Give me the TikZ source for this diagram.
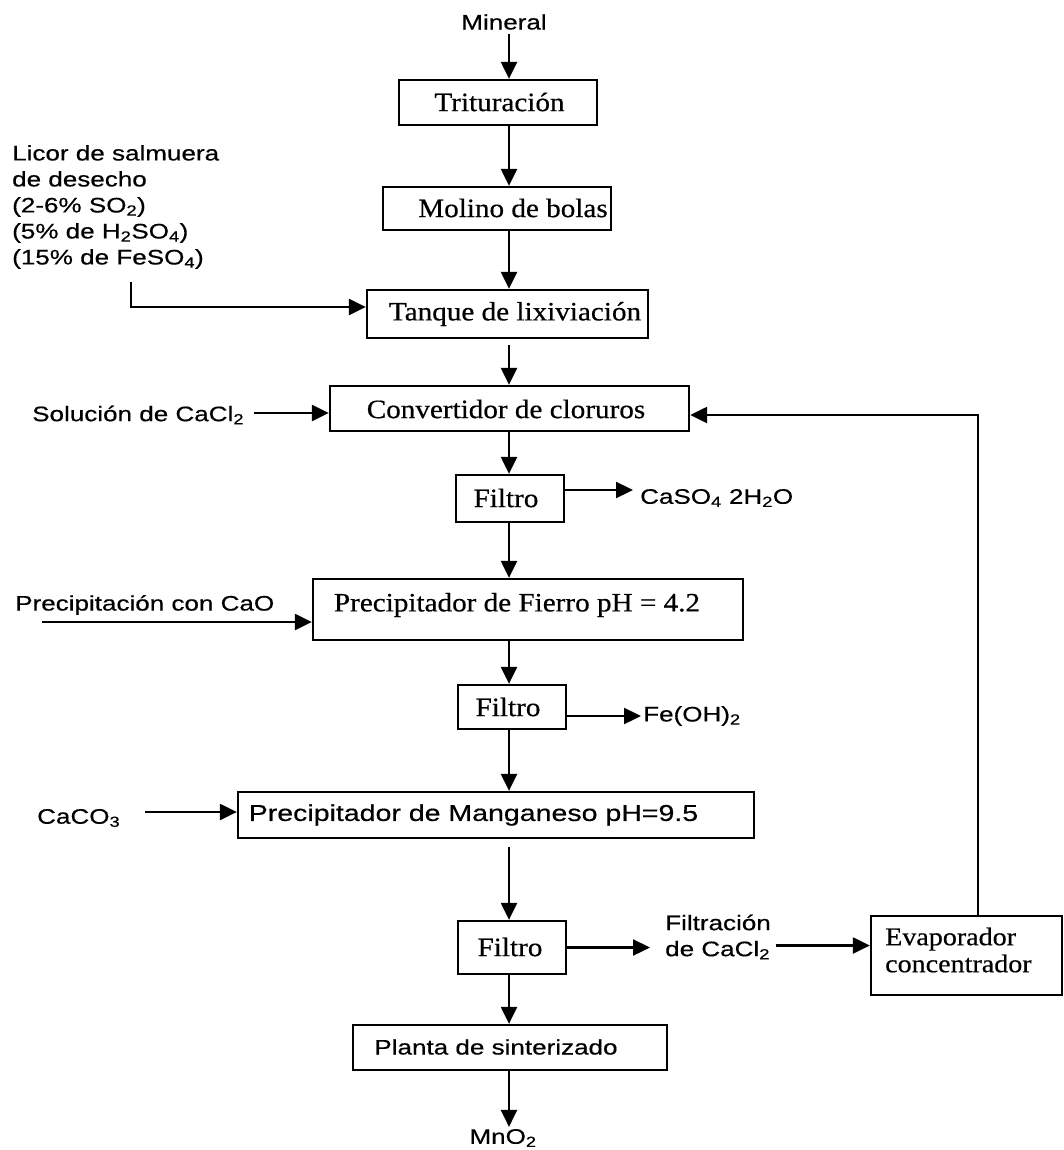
\documentclass[tikz,border=0pt]{standalone}
\usepackage{fontspec}
\setmainfont{Liberation Serif}[FakeStretch=1.1,FakeBold=0.5]
\setsansfont{Liberation Sans}[FakeStretch=1.24,FakeBold=0.5]
\usetikzlibrary{arrows.meta,calc}
\newcommand\procfont{\rmfamily\fontsize{26.5}{30}\selectfont}
\newcommand\evapfont{\rmfamily\fontsize{25.5}{27}\selectfont}
\newcommand\feedfont{\sffamily\fontsize{21}{26}\selectfont}
\newcommand\bigsans{\sffamily\fontsize{23}{28}\selectfont}

\begin{document}
\begin{tikzpicture}[x=1pt,y=-1pt,
  box/.style={draw, line width=2.3pt, inner sep=0pt},
  serif/.style={inner sep=0pt, font=\procfont},
  sans/.style={inner sep=0pt, font=\feedfont, align=left},
  flow/.style={line width=2.3pt, -{Triangle[length=17pt,width=16pt]}}]
\useasboundingbox[fill=white] (0,0) rectangle (1064,1150);

% main process column
\coordinate (col) at (509,0);

% process units
\node[box, minimum width=198pt, minimum height=45pt] (tri) at (498,102.5) {};
\node[box, minimum width=228pt, minimum height=43pt] (mol) at (497,208.5) {};
\node[box, minimum width=281pt, minimum height=48pt] (tan) at (507.5,314) {};
\node[box, minimum width=359pt, minimum height=45pt] (conv) at (509.5,408.5) {};
\node[box, minimum width=108pt, minimum height=47pt] (f1) at (510,498.5) {};
\node[box, minimum width=430pt, minimum height=61pt] (fe) at (528,609.5) {};
\node[box, minimum width=108pt, minimum height=44pt] (f2) at (512,707) {};
\node[box, minimum width=516pt, minimum height=46pt] (mn) at (496,815) {};
\node[box, minimum width=108pt, minimum height=53pt] (f3) at (512,947.5) {};
\node[box, minimum width=191pt, minimum height=79pt] (eva) at (966.5,955.5) {};
\node[box, minimum width=314pt, minimum height=45pt] (pla) at (510,1047.5) {};

% unit names
\node[serif] (tritxt) at (499.5,102) {Trituración};
\node[serif] (moltxt) at (513,208) {Molino de bolas};
\node[serif] (tantxt) at (515,314) {Tanque de lixiviación};
\node[serif] (convtxt) at (506,409) {Convertidor de cloruros};
\node[serif] (f1txt) at (506,498) {Filtro};
\node[serif] (fetxt) at (517,605) {Precipitador de Fierro pH = 4.2};
\node[serif] (f2txt) at (508,707) {Filtro};
\node[inner sep=0pt, font=\bigsans] (mntxt) at (473.5,815) {Precipitador de Manganeso pH=9.5};
\node[serif] (f3txt) at (510,947) {Filtro};
\node[inner sep=0pt, font=\evapfont, align=left, anchor=west] (evatxt) at (885,950) {Evaporador\\concentrador};
\node[sans] (platxt) at (496,1047) {Planta de sinterizado};

% feeds and products
\node[sans] (min) at (504,22) {Mineral};
\node[sans, anchor=west] (lic) at (12,207) {Licor de salmuera\\de desecho\\(2-6\% SO\textsubscript{2})\\(5\% de H\textsubscript{2}SO\textsubscript{4})\\(15\% de FeSO\textsubscript{4})};
\node[sans, anchor=west] (sol) at (32,415) {Solución de CaCl\textsubscript{2}};
\node[sans, anchor=west] (cas) at (640,498) {CaSO\textsubscript{4} 2H\textsubscript{2}O};
\node[sans, anchor=west] (cao) at (15,605) {Precipitación con CaO};
\node[sans, anchor=west] (feoh) at (643,716) {Fe(OH)\textsubscript{2}};
\node[sans, anchor=west] (cac) at (37,818) {CaCO\textsubscript{3}};
\node[sans, anchor=west] (fil) at (665,937) {Filtración\\de CaCl\textsubscript{2}};
\node[sans] (mno) at (503,1138) {MnO\textsubscript{2}};

% main column flows
\draw[flow] ($(min.south -| col)+(0,4)$) -- (tri.north -| col);
\draw[flow] (tri.south -| col) -- (mol.north -| col);
\draw[flow] (mol.south -| col) -- (tan.north -| col);
\draw[flow] ($(tan.south -| col)+(0,6)$) -- (conv.north -| col);
\draw[flow] (conv.south -| col) -- (f1.north -| col);
\draw[flow] (f1.south -| col) -- (fe.north -| col);
\draw[flow] (fe.south -| col) -- (f2.north -| col);
\draw[flow] (f2.south -| col) -- (mn.north -| col);
\draw[flow] ($(mn.south -| col)+(0,8)$) -- (f3.north -| col);
\draw[flow] (f3.south -| col) -- (pla.north -| col);
\draw[flow] (pla.south -| col) -- ($(mno.north -| col)+(0,-2)$);

% side feeds
\coordinate (licA) at (131,282);
\coordinate (licB) at (131,307);
\draw[flow] (licA) -- (licB) -- (licB -| tan.west);
\draw[flow] ($(sol.east)+(10,-2)$) -- ($(sol.east -| conv.west)+(0,-2)$);
\coordinate (caoS) at (42,622);
\draw[flow] (caoS) -- (caoS -| fe.west);
\draw[flow] ($(cac.east)+(25,-6)$) -- ($(cac.east -| mn.west)+(0,-6)$);

% side products
\draw[flow] ($(f1.east)+(0,-8.5)$) -- ($(cas.west)+(-7,-8)$);
\draw[flow] ($(f2.east)+(0,9)$) -- ($(feoh.west)+(-2,0)$);
\draw[flow] (f3.east) -- ($(f3.east -| fil.west)+(-15,0)$);
\draw[flow] ($(f3.east -| fil.east)+(5,-2)$) -- ($(f3.east -| eva.west)+(0,-2)$);

% chloride recycle
\coordinate (fbk) at (978,415);
\draw[flow] (fbk |- eva.north) -- (fbk) -- (fbk -| conv.east);
\end{tikzpicture}
\end{document}
